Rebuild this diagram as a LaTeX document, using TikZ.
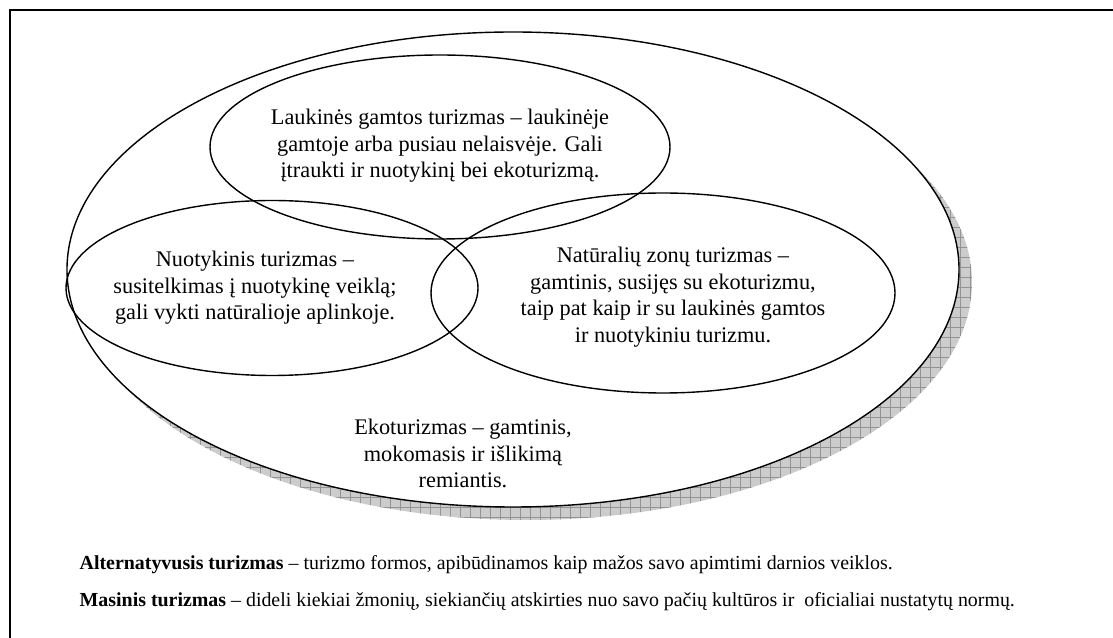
\documentclass[tikz,border=0pt]{standalone}
\usepackage{fontspec}
\setmainfont{Liberation Serif}
\usetikzlibrary{patterns.meta}
\begin{document}
\begin{tikzpicture}[x=1pt,y=1pt,line width=1.4pt,
	txt/.style={align=center,inner sep=0pt,font=\fontsize{22.3}{26.5}\selectfont},
	note/.style={anchor=west,inner sep=0pt,font=\fontsize{19.9}{22}\selectfont}]
	\useasboundingbox (0,0) rectangle (1113,637);
	\draw[line width=1.5pt] (10,-20) rectangle (1130,627);
	\fill[gray!40] (526,354.5) ellipse [x radius=446,y radius=237.5];
	\fill[pattern={Hatch[distance=10pt,line width=.5pt]},pattern color=gray!85] (526,354.5) ellipse [x radius=446,y radius=237.5];
	\draw[fill=white] (513,367.5) ellipse [x radius=446,y radius=237.5];
	\draw (440,490) ellipse [x radius=230,y radius=92];
	\draw (272,349) ellipse [x radius=206,y radius=87.5];
	\draw (663,344) ellipse [x radius=232,y radius=100];
	\node[txt] (lauk) at (440,491) {Laukinės gamtos turizmas – laukinėje\\gamtoje arba pusiau nelaisvėje. Gali\\įtraukti ir nuotykinį bei ekoturizmą.};
	\node[txt] (nuot) at (255,349) {Nuotykinis turizmas –\\susitelkimas į nuotykinę veiklą;\\gali vykti natūralioje aplinkoje.};
	\node[txt] (natur) at (673,340) {Natūralių zonų turizmas –\\gamtinis, susijęs su ekoturizmu,\\taip pat kaip ir su laukinės gamtos\\ir nuotykiniu turizmu.};
	\node[txt] (eko) at (463,183.5) {Ekoturizmas – gamtinis,\\mokomasis ir išlikimą\\remiantis.};
	\node[note] (alt) at (79,72) {\textbf{Alternatyvusis turizmas} – turizmo formos, apibūdinamos kaip mažos savo apimtimi darnios veiklos.};
	\node[note] (mas) at (79,35) {\textbf{Masinis turizmas} – dideli kiekiai žmonių, siekiančių atskirties nuo savo pačių kultūros ir\ \ oficialiai nustatytų normų.};
\end{tikzpicture}
\end{document}
